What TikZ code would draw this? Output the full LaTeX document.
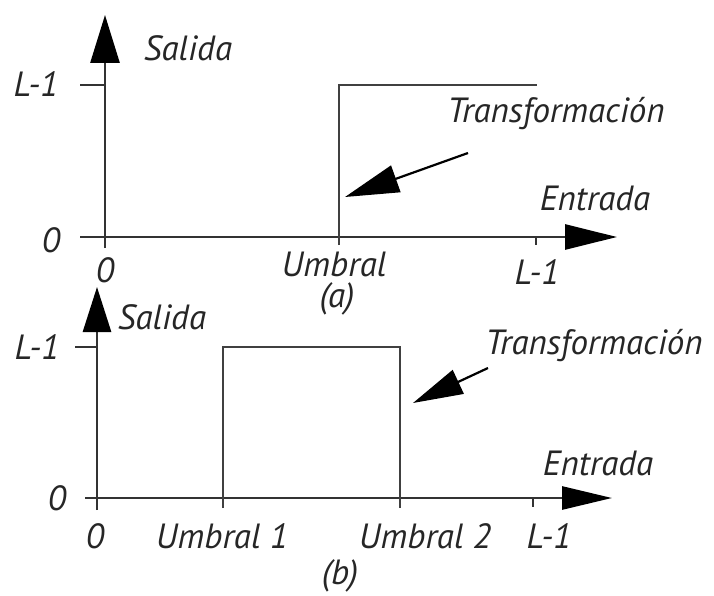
\documentclass[tikz,border=0pt]{standalone}
\usepackage{fontspec}
\setmainfont{PT Sans}
\usetikzlibrary{arrows.meta}
\begin{document}
\begin{tikzpicture}[x=1pt,y=-1pt,
  axisline/.style={line width=2.8pt,draw=black!80},
  curve/.style={line width=2.8pt,draw=black!75},
  lbl/.style={font=\fontsize{35}{35}\selectfont\itshape,inner sep=0pt,text=black!85},
]
\useasboundingbox (0,0) rectangle (714,596);
% ---------- (a) ----------
\coordinate (ay0) at (105,248);
\coordinate (aytip) at (105,15);
\coordinate (ax0) at (80,237);
\coordinate (axtip) at (617,237);
\draw[axisline,-{Triangle[length=48pt,width=29pt,color=black]}] (ay0) -- (aytip);
\draw[axisline,-{Triangle[length=52pt,width=25pt,color=black]}] (ax0) -- (axtip);
\coordinate (atk1) at (80,85);
\coordinate (atk1e) at (105,85);
\draw[axisline] (atk1) -- (atk1e);
\coordinate (atk2) at (536,237);
\coordinate (atk2e) at (536,245);
\draw[axisline] (atk2) -- (atk2e);
\coordinate (au1) at (339,245);
\coordinate (au2) at (339,85);
\coordinate (au3) at (537,85);
\draw[curve] (au1) -- (au2) -- (au3);
\coordinate (aarS) at (468,153);
\coordinate (aarE) at (345,197);
\draw[line width=2.2pt,-{Triangle[length=54pt,width=28pt]}] (aarS) -- (aarE);
\node[lbl] (aL1) at (36,84) {L-1};
\node[lbl] (aZ) at (51,240) {0};
\node[lbl] (aZx) at (105,270) {0};
\node[lbl] (aSal) at (188,48) {Salida};
\node[lbl] (aUmb) at (334,264) {Umbral};
\node[lbl] (aLx) at (537,272) {L-1};
\node[lbl] (aA) at (337,299) {(a)};
\node[lbl] (aTr) at (556,114) {Transformación};
\node[lbl] (aEn) at (595,198) {Entrada};
% ---------- (b) ----------
\coordinate (by0) at (97,510);
\coordinate (bytip) at (97,287);
\coordinate (bx0) at (85,498);
\coordinate (bxtip) at (612,498);
\draw[axisline,-{Triangle[length=45pt,width=28pt,color=black]}] (by0) -- (bytip);
\draw[axisline,-{Triangle[length=50pt,width=23pt,color=black]}] (bx0) -- (bxtip);
\coordinate (btk1) at (75,347);
\coordinate (btk1e) at (97,347);
\draw[axisline] (btk1) -- (btk1e);
\coordinate (btk2) at (533,498);
\coordinate (btk2e) at (533,507);
\draw[axisline] (btk2) -- (btk2e);
\coordinate (bu1) at (223,508);
\coordinate (bu2) at (223,347);
\coordinate (bu3) at (400,347);
\coordinate (bu4) at (400,508);
\draw[curve] (bu1) -- (bu2) -- (bu3) -- (bu4);
\coordinate (barS) at (488,368);
\coordinate (barE) at (413,403);
\draw[line width=2.2pt,-{Triangle[length=50pt,width=26pt]}] (barS) -- (barE);
\node[lbl] (bL1) at (37,347) {L-1};
\node[lbl] (bZ) at (57,498) {0};
\node[lbl] (bZx) at (95,536) {0};
\node[lbl] (bSal) at (162,317) {Salida};
\node[lbl] (bU1) at (222,536) {Umbral 1};
\node[lbl] (bU2) at (425,536) {Umbral 2};
\node[lbl] (bLx) at (549,536) {L-1};
\node[lbl] (bB) at (340,576) {(b)};
\node[lbl] (bTr) at (594,346) {Transformación};
\node[lbl] (bEn) at (598,463) {Entrada};
\end{tikzpicture}
\end{document}
